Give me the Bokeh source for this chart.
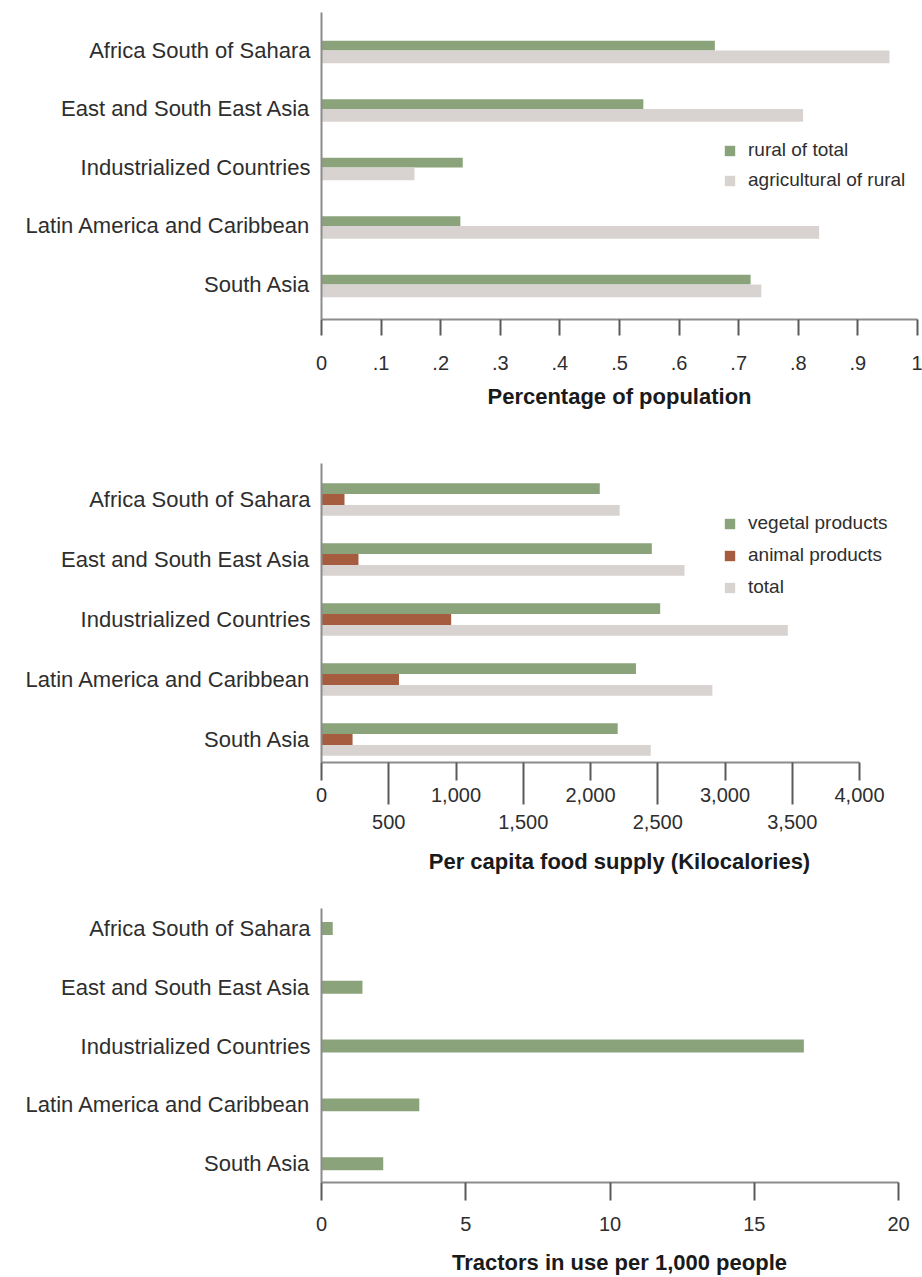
from bokeh.plotting import figure
from bokeh.models import (ColumnDataSource, Range1d, FixedTicker, LinearAxis, Legend,
                          LegendItem, NumeralTickFormatter)
from bokeh.transform import dodge
from bokeh.layouts import column
from bokeh.embed import file_html
from bokeh.resources import INLINE

# ---------------- data ----------------
categories = ["Africa South of Sahara", "East and South East Asia", "Industrialized Countries",
              "Latin America and Caribbean", "South Asia"]
positions = [0, 1, 2, 3, 4]

rural_of_total = [0.66, 0.54, 0.237, 0.233, 0.72]
agricultural_of_rural = [0.953, 0.808, 0.156, 0.835, 0.738]

vegetal_products = [2069, 2456, 2518, 2338, 2202]
animal_products = [171, 275, 964, 576, 231]
total_supply = [2217, 2699, 3467, 2906, 2448]

tractors = [0.39, 1.42, 16.72, 3.39, 2.14]

pct_ticks = [0, 0.1, 0.2, 0.3, 0.4, 0.5, 0.6, 0.7, 0.8, 0.9, 1]
pct_labels = ["0", ".1", ".2", ".3", ".4", ".5", ".6", ".7", ".8", ".9", "1"]
kcal_major = [0, 1000, 2000, 3000, 4000]
kcal_minor = [500, 1500, 2500, 3500]
tractor_ticks = [0, 5, 10, 15, 20]

# ---------------- styles ----------------
GREEN = "#8ba37a"
GRAY = "#d8d3d0"
BROWN = "#a65c3e"
FONT = "Liberation Sans"
AXIS_LINE = "#8c8c8c"
TICK = "#5a5a5a"
TXT = "#2e2e2e"
FRAME_W = 596

cat_overrides = {p: c for p, c in zip(positions, categories)}


def base_fig(height, x_range, y_range, top, bottom):
    p = figure(width=922, height=height, x_range=x_range, y_range=y_range,
               output_backend="svg", toolbar_location=None,
               min_border_left=321, min_border_right=922 - 321 - FRAME_W,
               min_border_top=top, min_border_bottom=bottom)
    p.outline_line_color = None
    p.grid.visible = False
    p.background_fill_color = "white"
    p.border_fill_color = "white"
    # y axis (categories)
    ya = p.yaxis[0]
    ya.ticker = FixedTicker(ticks=positions)
    ya.major_label_overrides = cat_overrides
    ya.major_tick_line_color = None
    ya.minor_tick_line_color = None
    ya.major_tick_out = 0
    ya.major_tick_in = 0
    ya.major_label_standoff = 11
    ya.axis_line_color = AXIS_LINE
    ya.axis_line_width = 2
    ya.major_label_text_font = FONT
    ya.major_label_text_font_size = "22px"
    ya.major_label_text_color = TXT
    # x axis
    xa = p.xaxis[0]
    xa.axis_line_color = AXIS_LINE
    xa.axis_line_width = 2
    xa.major_tick_line_color = TICK
    xa.major_tick_line_width = 2
    xa.major_tick_in = 0
    xa.minor_tick_in = 0
    xa.major_label_text_font = FONT
    xa.major_label_text_font_size = "20px"
    xa.major_label_text_color = TXT
    xa.axis_label_text_font = FONT
    xa.axis_label_text_font_style = "bold"
    xa.axis_label_text_font_size = "22px"
    xa.axis_label_text_color = "#1a1a1a"
    return p


def style_legend(items, loc, spacing):
    lg = Legend(items=items, location=loc)
    lg.background_fill_alpha = 0
    lg.border_line_color = None
    lg.padding = 0
    lg.margin = 0
    lg.glyph_width = 13
    lg.glyph_height = 13
    lg.label_standoff = 12
    lg.label_height = 24
    lg.spacing = spacing
    lg.label_text_font = FONT
    lg.label_text_font_size = "19px"
    lg.label_text_color = TXT
    return lg


# ---------------- chart 1 ----------------
src1 = ColumnDataSource(dict(pos=positions, rural=rural_of_total, agri=agricultural_of_rural))
p1 = base_fig(438, Range1d(0, 1), Range1d(4.6, -0.65), top=12, bottom=119)
r_rural = p1.hbar(y=dodge("pos", -0.0825, range=p1.y_range), right="rural", left=0, height=0.165,
                  source=src1, fill_color=GREEN, line_color=None)
r_agri = p1.hbar(y=dodge("pos", 0.11, range=p1.y_range), right="agri", left=0, height=0.22,
                 source=src1, fill_color=GRAY, line_color=None)
xa1 = p1.xaxis[0]
xa1.ticker = FixedTicker(ticks=pct_ticks, minor_ticks=[])
xa1.major_label_overrides = {t: l for t, l in zip(pct_ticks, pct_labels)}
xa1.major_tick_out = 16
xa1.minor_tick_out = 0
xa1.major_label_standoff = 20
xa1.axis_label = "Percentage of population"
xa1.axis_label_standoff = 11
leg1 = style_legend([LegendItem(label="rural of total", renderers=[r_rural]),
                     LegendItem(label="agricultural of rural", renderers=[r_agri])],
                    (402, 127), 6)
p1.add_layout(leg1, "center")

# ---------------- chart 2 ----------------
src2 = ColumnDataSource(dict(pos=positions, veg=vegetal_products, ani=animal_products, tot=total_supply))
p2 = base_fig(447, Range1d(0, 4000 * FRAME_W / 538), Range1d(4.383, -0.6), top=25, bottom=123)
r_veg = p2.hbar(y=dodge("pos", -0.18, range=p2.y_range), right="veg", left=0, height=0.18,
                source=src2, fill_color=GREEN, line_color=None)
r_ani = p2.hbar(y=dodge("pos", 0.0, range=p2.y_range), right="ani", left=0, height=0.18,
                source=src2, fill_color=BROWN, line_color=None)
r_tot = p2.hbar(y=dodge("pos", 0.18, range=p2.y_range), right="tot", left=0, height=0.18,
                source=src2, fill_color=GRAY, line_color=None)
xa2 = p2.xaxis[0]
xa2.bounds = (0, 4000)
xa2.ticker = FixedTicker(ticks=kcal_major, minor_ticks=kcal_minor)
xa2.formatter = NumeralTickFormatter(format="0,0")
xa2.major_tick_out = 18
xa2.minor_tick_out = 42
xa2.minor_tick_line_color = TICK
xa2.minor_tick_line_width = 2
xa2.major_label_standoff = -17

xb2 = LinearAxis(ticker=FixedTicker(ticks=kcal_minor, minor_ticks=[]),
                 formatter=NumeralTickFormatter(format="0,0"))
xb2.axis_line_color = None
xb2.major_tick_line_color = None
xb2.minor_tick_line_color = None
xb2.major_tick_out = 0
xb2.major_tick_in = 0
xb2.minor_tick_out = 0
xb2.minor_tick_in = 0
xb2.major_label_standoff = 10
xb2.major_label_text_font = FONT
xb2.major_label_text_font_size = "20px"
xb2.major_label_text_color = TXT
xb2.axis_label = "Per capita food supply (Kilocalories)"
xb2.axis_label_standoff = 17
xb2.axis_label_text_font = FONT
xb2.axis_label_text_font_style = "bold"
xb2.axis_label_text_font_size = "22px"
xb2.axis_label_text_color = "#1a1a1a"
p2.add_layout(xb2, "below")

leg2 = style_legend([LegendItem(label="vegetal products", renderers=[r_veg]),
                     LegendItem(label="animal products", renderers=[r_ani]),
                     LegendItem(label="total", renderers=[r_tot])],
                    (402, 163), 8)
p2.add_layout(leg2, "center")

# ---------------- chart 3 ----------------
src3 = ColumnDataSource(dict(pos=positions, trac=tractors))
p3 = base_fig(392, Range1d(0, 20 * FRAME_W / 577), Range1d(4.32, -0.34), top=23, bottom=93)
p3.hbar(y="pos", right="trac", left=0, height=0.22, source=src3, fill_color=GREEN, line_color=None)
xa3 = p3.xaxis[0]
xa3.bounds = (0, 20)
xa3.ticker = FixedTicker(ticks=tractor_ticks, minor_ticks=[])
xa3.major_tick_out = 18
xa3.minor_tick_out = 0
xa3.major_label_standoff = 16
xa3.axis_label = "Tractors in use per 1,000 people"
xa3.axis_label_standoff = 16

layout = column(p1, p2, p3)
open("out.html", "w").write(file_html(layout, INLINE))
